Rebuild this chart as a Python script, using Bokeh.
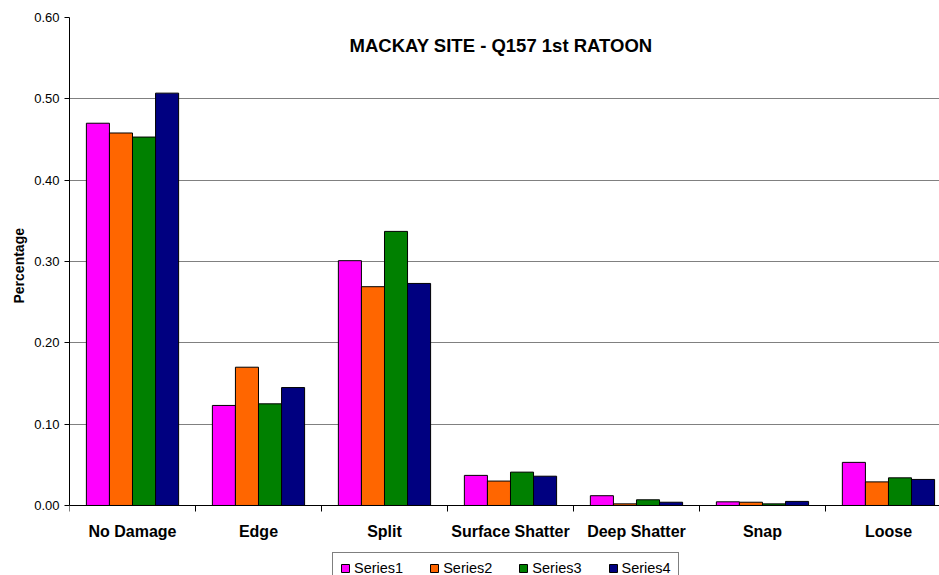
from bokeh.plotting import figure
from bokeh.models import Range1d, FixedTicker, Label, Legend, LegendItem, NumeralTickFormatter, Title
from bokeh.embed import file_html
from bokeh.resources import INLINE

categories = ["No Damage", "Edge", "Split", "Surface Shatter", "Deep Shatter", "Snap", "Loose"]
series_names = ["Series1", "Series2", "Series3", "Series4"]
series1 = [0.470, 0.123, 0.301, 0.037, 0.012, 0.0045, 0.053]
series2 = [0.458, 0.170, 0.269, 0.030, 0.002, 0.004, 0.029]
series3 = [0.453, 0.125, 0.337, 0.041, 0.007, 0.002, 0.034]
series4 = [0.507, 0.145, 0.273, 0.036, 0.004, 0.005, 0.032]
y_ticks = [0.0, 0.1, 0.2, 0.3, 0.4, 0.5, 0.6]
title_text = "MACKAY SITE - Q157 1st RATOON"
y_label = "Percentage"

colors = ["#FF00FF", "#FF6600", "#008000", "#000080"]
FONT = "Liberation Sans"

p = figure(width=939, height=575, output_backend="svg", toolbar_location=None,
           x_range=Range1d(0, 6.905), y_range=Range1d(-0.0861, 0.6),
           min_border_left=69, min_border_right=0, min_border_top=17, min_border_bottom=0)
p.outline_line_color = None
p.background_fill_color = "white"

bar_w = 0.183
offsets = [-1.5 * bar_w, -0.5 * bar_w, 0.5 * bar_w, 1.5 * bar_w]
all_series = [series1, series2, series3, series4]
items = []
for name, vals, col, off in zip(series_names, all_series, colors, offsets):
    xs = [i + 0.5 + off for i in range(len(categories))]
    r = p.vbar(x=xs, top=vals, bottom=0, width=bar_w, fill_color=col,
               line_color="black", line_width=1)
    items.append(LegendItem(label=name, renderers=[r]))

# x axis: labels at category centres, tick marks at category boundaries
centers = [i + 0.5 for i in range(len(categories))]
p.xaxis.fixed_location = 0
p.xaxis.ticker = FixedTicker(ticks=centers, minor_ticks=list(range(len(categories) + 1)))
p.xaxis.major_label_overrides = {c: name for c, name in zip(centers, categories)}
p.xaxis.major_tick_out = 0
p.xaxis.major_tick_in = 0
p.xaxis.minor_tick_out = 6
p.xaxis.minor_tick_in = 0
p.xaxis.minor_tick_line_color = "black"
p.xaxis.axis_line_color = "black"
p.xaxis.major_label_text_font = FONT
p.xaxis.major_label_text_font_style = "bold"
p.xaxis.major_label_text_font_size = "16px"
p.xaxis.major_label_text_color = "black"
p.xaxis.major_label_standoff = 12
p.xgrid.grid_line_color = None

p.yaxis.bounds = (0, 0.6)
p.yaxis.ticker = FixedTicker(ticks=y_ticks, minor_ticks=[])
p.yaxis.formatter = NumeralTickFormatter(format="0.00")
p.yaxis.major_tick_out = 5
p.yaxis.major_tick_in = 0
p.yaxis.axis_line_color = "black"
p.yaxis.major_tick_line_color = "black"
p.yaxis.major_label_text_font = FONT
p.yaxis.major_label_text_font_size = "13px"
p.yaxis.major_label_text_color = "black"
p.yaxis.major_label_standoff = 5
p.ygrid.grid_line_color = "#808080"
p.ygrid.grid_line_width = 1
p.ygrid.bounds = (0, 0.6)

# y-axis title, centred on the 0..0.6 part of the frame
p.add_layout(Title(text=y_label, align="left", offset=272, standoff=9,
                   text_font=FONT, text_font_style="bold", text_font_size="14px",
                   text_color="black"), "left")

p.add_layout(Label(x=3.425, y=0.5655, text=title_text, text_align="center",
                   text_baseline="middle", text_font=FONT, text_font_style="bold",
                   text_font_size="18.5px", text_color="black"))

legend = Legend(items=items, orientation="horizontal", location=(263, -9),
                border_line_color="black", border_line_width=1,
                label_text_font=FONT, label_text_font_size="14.5px",
                label_text_color="black",
                glyph_width=10, glyph_height=10, label_standoff=4, spacing=26,
                padding=7, margin=0, label_height=16)
p.add_layout(legend)

open("out.html", "w").write(file_html(p, INLINE))
